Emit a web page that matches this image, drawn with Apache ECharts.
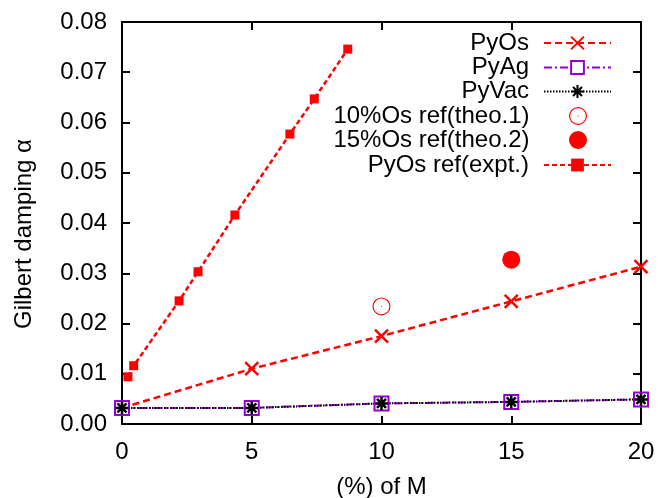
<!DOCTYPE html>
<html lang="en" style="height: 100%">

<head>
  <meta charset="UTF-8" />
  <title>Gilbert damping</title>
  <script src="https://cdn.jsdelivr.net/npm/echarts@6/dist/echarts.min.js"></script>
</head>

<body style="height: 100%; margin: 0; background: #fff">
  <div id="container" style="width: 660px; height: 498px"></div>
  <script type="text/javascript">
    // data
    var xCalc = [0, 5, 10, 15, 20];
    var pyOs = [0.0032, 0.0110, 0.0175, 0.0244, 0.0313];
    var pyAg = [0.0032, 0.0032, 0.0041, 0.0044, 0.0049];
    var pyVac = [0.0032, 0.0032, 0.0041, 0.0044, 0.0049];
    var theo1 = [[10, 0.0234]];
    var theo2 = [[15, 0.0327]];
    var exptX = [0.23, 0.45, 2.2, 2.93, 4.35, 6.47, 7.41, 8.70];
    var exptY = [0.0094, 0.0116, 0.0245, 0.0303, 0.0416, 0.0577, 0.0647, 0.0746];
    var names = ["PyOs", "PyAg", "PyVac", "10%Os ref(theo.1)", "15%Os ref(theo.2)", "PyOs ref(expt.)"];
    var xTicks = [0, 20, 5];      // min, max, step
    var yTicks = [0, 0.08, 0.01];

    function pairs(xs, ys) {
      return xs.map(function (x, i) { return [x, ys[i]]; });
    }

    var FONT = "Liberation Sans";
    var FS = 24;
    var RED = "#ff0000";
    var VIOLET = "#9400d3";

    var crossPath = "path://M0,0L10,10M10,0L0,10";
    var starPath = "path://M5,0L5,10M0,5L10,5M1.5,1.5L8.5,8.5M8.5,1.5L1.5,8.5";
    var ringDotPath = "path://M0,10A10,10 0 1,1 20,10A10,10 0 1,1 0,10Z" +
      "M1.3,10A8.7,8.7 0 1,0 18.7,10A8.7,8.7 0 1,0 1.3,10Z" +
      "M9.4,10A0.6,0.6 0 1,1 10.6,10A0.6,0.6 0 1,1 9.4,10Z";

    var dom = document.getElementById("container");
    var myChart = echarts.init(dom, null, { renderer: "canvas" });

    // one legend per entry so the keys line up on the right like gnuplot
    var rowY = [43, 67.5, 91.5, 116, 140, 165];
    var legends = names.map(function (n, i) {
      var isPoint = (i == 3 || i == 4);
      var leg = {
        data: [n],
        right: isPoint ? 73 : 48,
        top: rowY[i] - 12,
        padding: 0,
        align: "right",
        itemWidth: 67,
        itemHeight: isPoint ? 18 : 16,
        selectedMode: false,
        formatter: function (s) { return "{t|" + s + "}"; },
        textStyle: {
          fontFamily: FONT, fontSize: FS, color: "#000",
          rich: { t: { fontFamily: FONT, fontSize: FS, color: "#000", padding: [0, 10, 0, 0] } }
        }
      };
      if (i == 0 || i == 2) leg.itemStyle = { borderWidth: 2 };
      return leg;
    });

    var axisCommon = {
      type: "value",
      axisLine: { show: true, onZero: false, lineStyle: { color: "#000", width: 2 } },
      axisTick: { show: true, inside: true, length: 8, lineStyle: { color: "#000", width: 2 } },
      splitLine: { show: false }
    };

    var option = {
      backgroundColor: "#fff",
      animation: false,
      grid: { left: 122, right: 19, top: 22, bottom: 74, containLabel: false, outerBoundsMode: "none" },
      legend: legends,
      xAxis: [
        Object.assign({}, axisCommon, {
          min: xTicks[0], max: xTicks[1], interval: xTicks[2],
          position: "bottom",
          name: "(%) of M",
          nameLocation: "middle",
          nameGap: 51,
          nameTextStyle: { fontFamily: FONT, fontSize: FS, color: "#000" },
          axisLabel: { margin: 16, fontFamily: FONT, fontSize: FS, color: "#000" }
        }),
        Object.assign({}, axisCommon, {
          min: xTicks[0], max: xTicks[1], interval: xTicks[2],
          position: "top",
          axisLabel: { show: false }
        })
      ],
      yAxis: [
        Object.assign({}, axisCommon, {
          min: yTicks[0], max: yTicks[1], interval: yTicks[2],
          position: "left",
          name: "Gilbert damping α",
          nameLocation: "middle",
          nameGap: 86,
          nameTextStyle: { fontFamily: FONT, fontSize: FS, color: "#000", padding: [0, 22, 0, 0] },
          axisLabel: {
            margin: 15, fontFamily: FONT, fontSize: FS, color: "#000",
            formatter: function (v) { return v.toFixed(2); }
          }
        }),
        Object.assign({}, axisCommon, {
          min: yTicks[0], max: yTicks[1], interval: yTicks[2],
          position: "right",
          axisLabel: { show: false }
        })
      ],
      series: [
        {
          name: names[0],
          type: "line",
          data: pairs(xCalc, pyOs),
          symbol: crossPath,
          symbolSize: 13,
          lineStyle: { color: RED, width: 2.5, type: [7, 4] },
          itemStyle: { color: RED, borderColor: RED, borderWidth: 2.5 }
        },
        {
          name: names[1],
          type: "line",
          data: pairs(xCalc, pyAg),
          symbol: "emptyRect",
          symbolSize: 14,
          lineStyle: { color: VIOLET, width: 2, type: [8, 3, 2, 3] },
          itemStyle: { color: VIOLET, borderColor: VIOLET, borderWidth: 2 }
        },
        {
          name: names[2],
          type: "line",
          data: pairs(xCalc, pyVac),
          symbol: starPath,
          symbolSize: 13,
          lineStyle: { color: "#000", width: 2, type: [1.5, 1.5] },
          itemStyle: { color: "#000", borderColor: "#000", borderWidth: 2.5 }
        },
        {
          name: names[3],
          type: "scatter",
          data: theo1,
          symbol: ringDotPath,
          symbolSize: 18,
          itemStyle: { color: RED, opacity: 1 }
        },
        {
          name: names[4],
          type: "scatter",
          data: theo2,
          symbol: "circle",
          symbolSize: 18,
          itemStyle: { color: RED, opacity: 1 }
        },
        {
          name: names[5],
          type: "line",
          data: pairs(exptX, exptY),
          symbol: "rect",
          symbolSize: 9,
          lineStyle: { color: RED, width: 2.5, type: [5, 3] },
          itemStyle: { color: RED }
        }
      ]
    };

    myChart.setOption(option);
    window.addEventListener("resize", myChart.resize);
  </script>
</body>

</html>
